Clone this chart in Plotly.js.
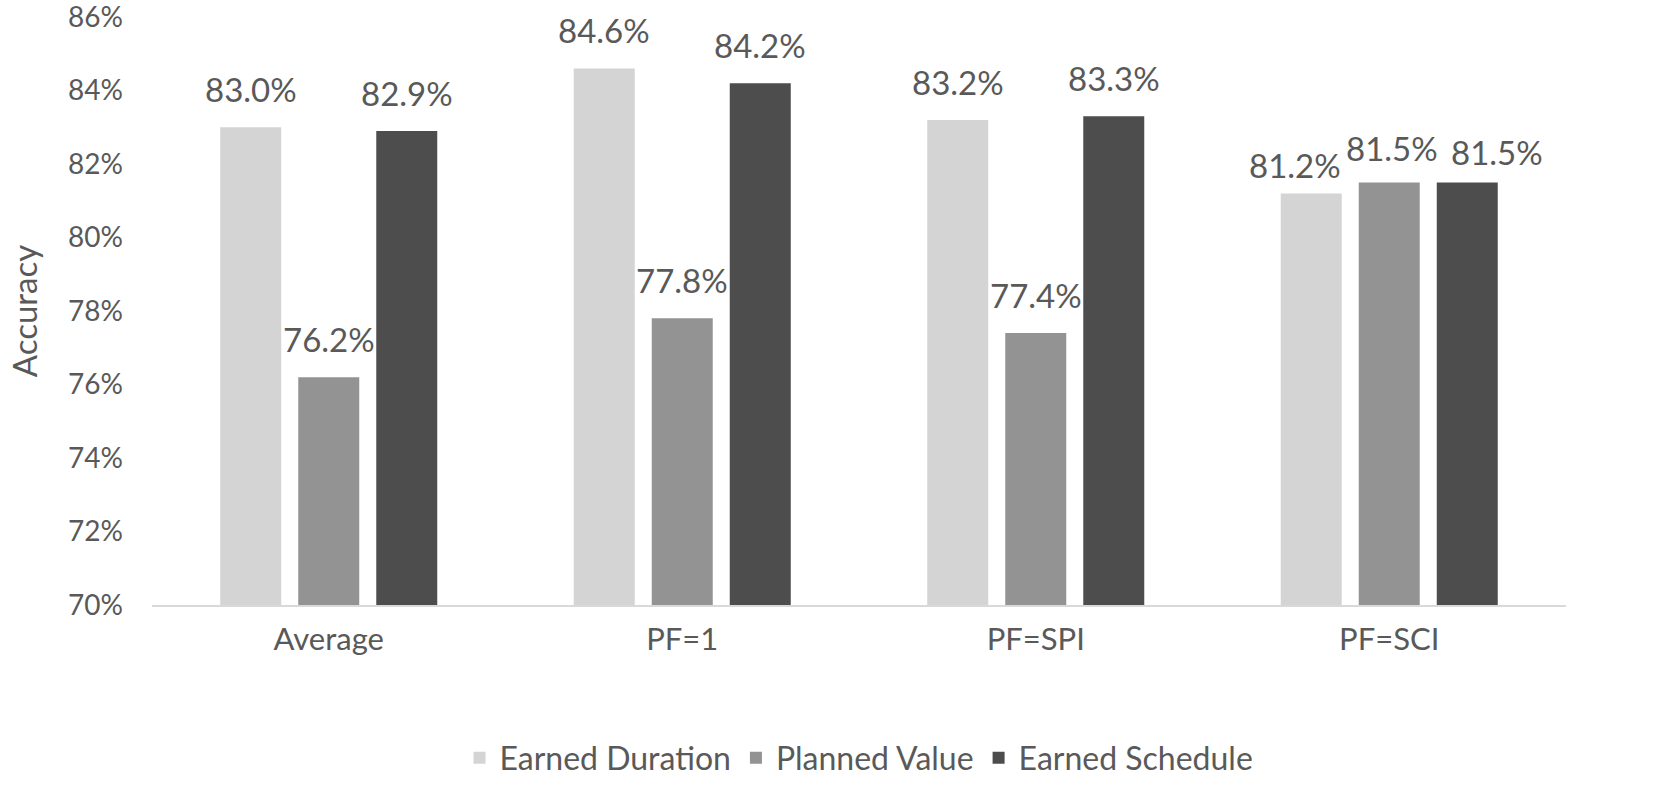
<!DOCTYPE html>
<html>
<head>
<meta charset="utf-8">
<script src="https://cdn.plot.ly/plotly-3.0.1.min.js"></script>
<style>html,body{margin:0;padding:0;background:#fff;}#chart{width:1654px;height:797px;}</style>
</head>
<body>
<div id="chart"></div>
<script>
const categories = ["Average", "PF=1", "PF=SPI", "PF=SCI"];
const seriesNames = ["Earned Duration", "Planned Value", "Earned Schedule"];
const earnedDuration = [83.0, 84.6, 83.2, 81.2];
const plannedValue = [76.2, 77.8, 77.4, 81.5];
const earnedSchedule = [82.9, 84.2, 83.3, 81.5];
const yTicks = [70, 72, 74, 76, 78, 80, 82, 84, 86];
const yTickLabels = ["70%", "72%", "74%", "76%", "78%", "80%", "82%", "84%", "86%"];

const colors = ["#d4d4d4", "#939393", "#4d4d4d"];
const FONT = "Lato, 'Open Sans', sans-serif";
const TXT = "#595959";
const allSeries = [earnedDuration, plannedValue, earnedSchedule];

const bargap = 0.338;
const slot = (1 - bargap) / 3;

// label nudges (pixels) to avoid overlapping labels, as in the original: [series][category]
const labelXShift = [[0, 0, 0, -16], [0, 0, 0, 3], [0, 0, 0, 30]];
const labelYShift = [[16, 16, 16, 6], [16, 16, 16, 12], [16, 16, 16, 8]];

const traces = allSeries.map((vals, j) => ({
  type: "bar",
  name: seriesNames[j],
  x: categories,
  y: vals,
  marker: { color: colors[j] },
  hoverinfo: "none"
}));

const annotations = [];
allSeries.forEach((vals, j) => {
  vals.forEach((v, i) => {
    annotations.push({
      x: i + (j - 1) * slot,
      y: v,
      xref: "x",
      yref: "y",
      text: v.toFixed(1) + "%",
      showarrow: false,
      yanchor: "bottom",
      xshift: labelXShift[j][i],
      yshift: labelYShift[j][i],
      font: { family: FONT, size: 33, color: TXT }
    });
  });
});

const layout = {
  width: 1654,
  height: 797,
  margin: { l: 152, r: 88, t: 17, b: 186 },
  paper_bgcolor: "#ffffff",
  plot_bgcolor: "#ffffff",
  barmode: "group",
  bargap: bargap,
  bargroupgap: 0.218,
  font: { family: FONT, size: 31, color: TXT },
  showlegend: true,
  legend: {
    orientation: "h",
    x: 0.5, xanchor: "center",
    y: -0.26, yanchor: "middle",
    font: { family: FONT, size: 32, color: TXT },
    itemwidth: 30
  },
  xaxis: {
    type: "category",
    range: [-0.5, 3.5],
    showline: true,
    linecolor: "#d9d9d9",
    linewidth: 2,
    showgrid: false,
    zeroline: false,
    ticks: "",
    tickfont: { family: FONT, size: 31, color: TXT },
    ticklabelstandoff: 6
  },
  yaxis: {
    range: [70, 86],
    tickvals: yTicks,
    ticktext: yTickLabels,
    showgrid: false,
    zeroline: false,
    showline: false,
    ticks: "",
    ticklabeloverflow: "allow",
    tickfont: { family: FONT, size: 28, color: TXT },
    ticklabelstandoff: 28,
    title: { text: "Accuracy", font: { family: FONT, size: 33, color: TXT }, standoff: 20 }
  },
  annotations: annotations
};

Plotly.newPlot("chart", traces, layout, { staticPlot: true, displayModeBar: false });
</script>
</body>
</html>
